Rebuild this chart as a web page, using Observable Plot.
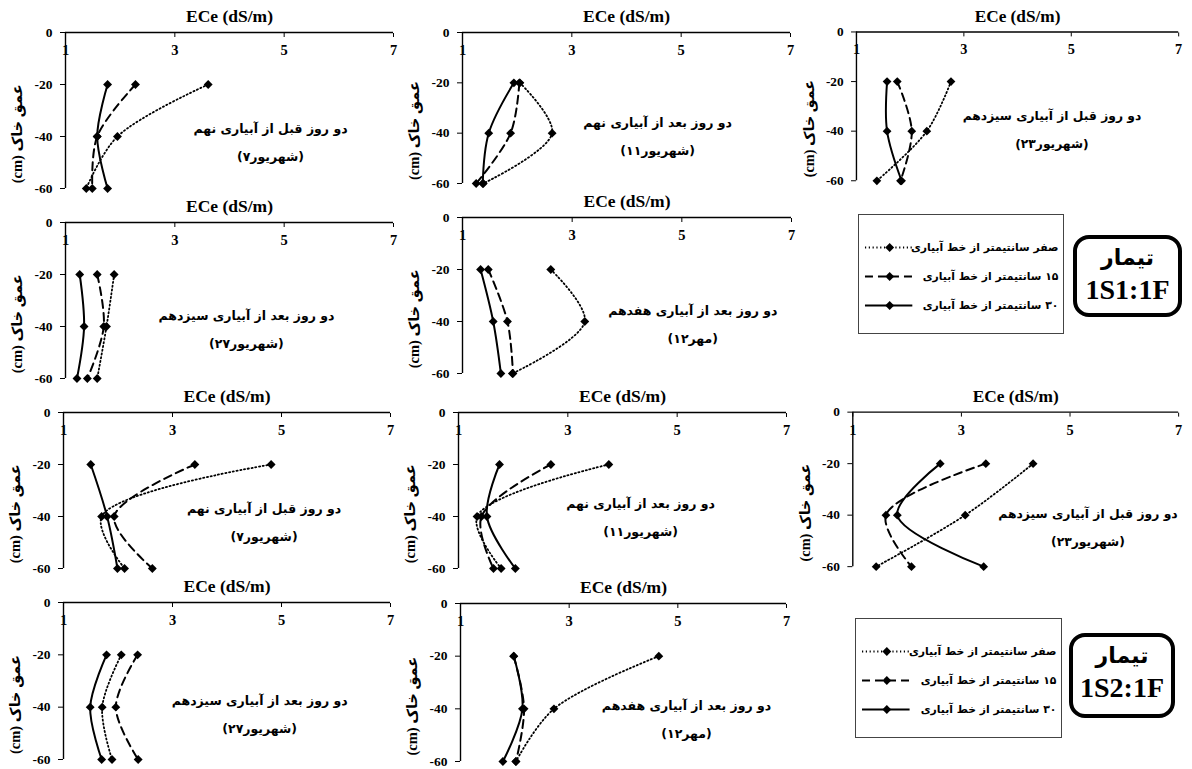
<!DOCTYPE html>
<html>
<head>
<meta charset="utf-8">
<script src="https://cdn.jsdelivr.net/npm/d3@7"></script>
<script src="https://cdn.jsdelivr.net/npm/@observablehq/plot@0.6"></script>
<style>
  body { margin: 0; background: #fff; }
  #fig { position: relative; width: 1192px; height: 769px; overflow: hidden; background: #fff; }
  .panel { position: absolute; }
  .treat {
    position: absolute; box-sizing: border-box; border: 4px solid #000; border-radius: 16px;
    text-align: center; color: #000;
  }
  .treat .fa { font-family: "DejaVu Sans", sans-serif; font-weight: bold; font-size: 22px; line-height: 30px; margin-top: 4px; }
  .treat .code { font-family: "Liberation Serif", serif; font-weight: bold; font-size: 28px; line-height: 34px; }
</style>
</head>
<body>
<div id="fig"></div>
<script>
// Soil depths (cm) sampled in every profile
const depths = [-20, -40, -60];
const xTicks = [1, 3, 5, 7];
const yTicks = [0, -20, -40, -60];
const xTitle = "ECe (dS/m)";
const yTitle = "(cm) عمق خاک";

// Distance from the drip line: 0, 15 and 30 cm
const seriesKeys = ["0", "15", "30"];

// ECe at -20, -40, -60 cm for each of the ten profiles (0 cm from the drip line)
const ec0cm = [
  [3.61, 1.95, 1.38],
  [2.05, 2.64, 1.38],
  [2.76, 2.31, 1.38],
  [1.89, 1.75, 1.58],
  [2.61, 3.23, 1.91],
  [4.81, 1.70, 2.12],
  [3.75, 1.34, 1.78],
  [4.32, 3.07, 1.43],
  [2.06, 1.71, 1.89],
  [4.65, 2.72, 2.02]
];
// 15 cm from the drip line
const ec15cm = [
  [2.28, 1.58, 1.49],
  [2.04, 1.88, 1.25],
  [1.76, 2.03, 1.82],
  [1.58, 1.70, 1.40],
  [1.47, 1.82, 1.92],
  [3.41, 1.93, 2.63],
  [2.69, 1.42, 1.64],
  [3.45, 1.61, 2.08],
  [2.36, 1.96, 2.37],
  [1.98, 2.17, 2.02]
];
// 30 cm from the drip line
const ec30cm = [
  [1.77, 1.58, 1.77],
  [1.94, 1.48, 1.37],
  [1.57, 1.57, 1.84],
  [1.26, 1.34, 1.21],
  [1.33, 1.56, 1.70],
  [1.50, 1.80, 1.99],
  [1.75, 1.52, 2.04],
  [2.61, 1.82, 3.41],
  [1.79, 1.49, 1.70],
  [1.98, 2.14, 1.78]
];

// Sampling occasion written inside each profile
const noteLines = [
  "دو روز قبل از آبیاری نهم",
  "دو روز بعد از آبیاری نهم",
  "دو روز قبل از آبیاری سیزدهم",
  "دو روز بعد از آبیاری سیزدهم",
  "دو روز بعد از آبیاری هفدهم",
  "دو روز قبل از آبیاری نهم",
  "دو روز بعد از آبیاری نهم",
  "دو روز قبل از آبیاری سیزدهم",
  "دو روز بعد از آبیاری سیزدهم",
  "دو روز بعد از آبیاری هفدهم"
];
// dates are laid out left-to-right: "(" and the day number come first
const noteDates = [
  "\u200E(۷شهریور)", "\u200E(۱۱شهریور)", "\u200E(۲۳شهریور)", "\u200E(۲۷شهریور)", "\u200E(۱۲مهر)",
  "\u200E(۷شهریور)", "\u200E(۱۱شهریور)", "\u200E(۲۳شهریور)", "\u200E(۲۷شهریور)", "\u200E(۱۲مهر)"
];

const legendLabels = [
  "صفر سانتیمتر از خط آبیاری",
  "\u200F۱۵ سانتیمتر از خط آبیاری",
  "\u200F۳۰ سانتیمتر از خط آبیاری"
];
const treatmentWord = "تیمار";
const treatmentCodes = ["1S1:1F", "1S2:1F"];

// ---- layout -------------------------------------------------------------
// pixel box of each plotting frame: x=1 .. x=7 and depth 0 .. -60
const panelFrames = [
  {x1: 65, x7: 393, yt: 32, yb: 188},
  {x1: 462, x7: 790, yt: 32, yb: 183},
  {x1: 857, x7: 1184, yt: 32, yb: 183},
  {x1: 65, x7: 393, yt: 222, yb: 378},
  {x1: 462, x7: 791, yt: 217, yb: 373},
  {x1: 63, x7: 390, yt: 412, yb: 568},
  {x1: 458, x7: 786, yt: 412, yb: 568},
  {x1: 853, x7: 1182, yt: 412, yb: 568},
  {x1: 63, x7: 390, yt: 602, yb: 759},
  {x1: 460, x7: 786, yt: 603, yb: 761}
];
// note anchor in data units (ECe, depth)
const noteAnchors = [
  [4.75, -37], [4.57, -36], [4.64, -34], [4.31, -36], [5.2, -36],
  [4.68, -37], [4.33, -35], [5.33, -39.6], [4.6, -37.5], [5.16, -39]
];
const legendBoxes = [
  {left: 858, top: 214, width: 205, height: 119},
  {left: 855, top: 618, width: 206, height: 119}
];
const treatBoxes = [
  {left: 1073, top: 235, width: 109, height: 82},
  {left: 1069, top: 633, width: 106, height: 85}
];

const seriesStyle = [
  {strokeDasharray: "1.2,2.6", strokeWidth: 1.8},
  {strokeDasharray: "8,5", strokeWidth: 2},
  {strokeWidth: 2}
];
const serif = "Liberation Serif, DejaVu Sans, serif";
const persian = "DejaVu Sans, sans-serif";

const fig = document.getElementById("fig");
const seriesValues = [ec0cm, ec15cm, ec30cm];

function drawPanel(i) {
  const f = panelFrames[i];
  const mL = 72, mT = 36, mR = 14, mB = 12;
  const width = mL + (f.x7 - f.x1) + mR;
  const height = mT + (f.yb - f.yt) + mB;
  const rows = [];
  seriesKeys.forEach((k, s) => depths.forEach((d, j) => rows.push({series: k, depth: d, ec: seriesValues[s][i][j]})));
  const [nx, ny] = noteAnchors[i];
  const plot = Plot.plot({
    width, height,
    marginLeft: mL, marginTop: mT, marginRight: mR, marginBottom: mB,
    x: {domain: [1, 7]},
    y: {domain: [-60, 0]},
    style: {fontFamily: serif, overflow: "visible", background: "transparent", color: "#000"},
    marks: [
      Plot.ruleY([0], {stroke: "#000", strokeWidth: 1.4}),
      Plot.ruleX([1], {stroke: "#000", strokeWidth: 1.4}),
      Plot.axisX(xTicks, {anchor: "top", tickSize: -4, tickPadding: -14, lineAnchor: "middle",
        label: null, fontSize: 14.5, fontWeight: "bold", tickFormat: d => String(d)}),
      Plot.axisY(yTicks, {anchor: "left", tickSize: 5, tickPadding: 8,
        label: null, fontSize: 13.5, fontWeight: "bold", tickFormat: d => String(d)}),
      Plot.text([xTitle], {frameAnchor: "top", dy: -16, fontSize: 17.5, fontWeight: "bold", lineAnchor: "middle"}),
      Plot.text([yTitle], {x: () => 1, y: () => -39, dx: -48, rotate: -90, fontSize: 14.5, fontWeight: "bold"}),
      ...seriesKeys.map((k, s) => Plot.line(rows.filter(r => r.series === k),
        {x: "ec", y: "depth", curve: "catmull-rom", stroke: "#000", ...seriesStyle[s]})),
      Plot.dot(rows, {x: "ec", y: "depth", symbol: "diamond2", r: 4, fill: "#000", stroke: "none"}),
      Plot.text([noteLines[i]], {x: () => nx, y: () => ny, fontFamily: persian, fontSize: 12.5, fontWeight: "bold"}),
      Plot.text([noteDates[i]], {x: () => nx, y: () => ny, dy: 28, fontFamily: persian, fontSize: 12.5, fontWeight: "bold"})
    ]
  });
  const div = document.createElement("div");
  div.className = "panel";
  div.style.left = (f.x1 - mL) + "px";
  div.style.top = (f.yt - mT) + "px";
  div.appendChild(plot);
  fig.appendChild(div);
}

function drawLegend(b) {
  const rows = seriesKeys.map((k, s) => ({key: k, label: legendLabels[s]}));
  const plot = Plot.plot({
    width: b.width, height: b.height, margin: 0,
    x: {domain: [0, 1], axis: null},
    y: {type: "point", domain: seriesKeys, range: [18, b.height - 14], axis: null},
    style: {fontFamily: persian, overflow: "visible", background: "transparent"},
    marks: [
      Plot.frame({stroke: "#444", strokeWidth: 1}),
      ...seriesKeys.map((k, s) => Plot.ruleY([k], {y: d => d, x1: () => 0.034, x2: () => 0.265, stroke: "#000", ...seriesStyle[s]})),
      Plot.dot(seriesKeys, {x: () => 0.152, y: d => d, symbol: "diamond2", r: 4, fill: "#000"}),
      Plot.text(rows, {x: () => 0.975, y: "key", text: "label", textAnchor: "end", fontSize: 10.8, fontWeight: "bold"})
    ]
  });
  const div = document.createElement("div");
  div.className = "panel";
  div.style.left = b.left + "px";
  div.style.top = b.top + "px";
  div.appendChild(plot);
  fig.appendChild(div);
}

function drawTreatment(b, code) {
  const div = document.createElement("div");
  div.className = "treat";
  Object.assign(div.style, {left: b.left + "px", top: b.top + "px", width: b.width + "px", height: b.height + "px"});
  const a = document.createElement("div"); a.className = "fa"; a.textContent = treatmentWord;
  const c = document.createElement("div"); c.className = "code"; c.textContent = code;
  div.append(a, c);
  fig.appendChild(div);
}

panelFrames.forEach((_, i) => drawPanel(i));
legendBoxes.forEach(drawLegend);
treatBoxes.forEach((b, i) => drawTreatment(b, treatmentCodes[i]));
</script>
</body>
</html>
